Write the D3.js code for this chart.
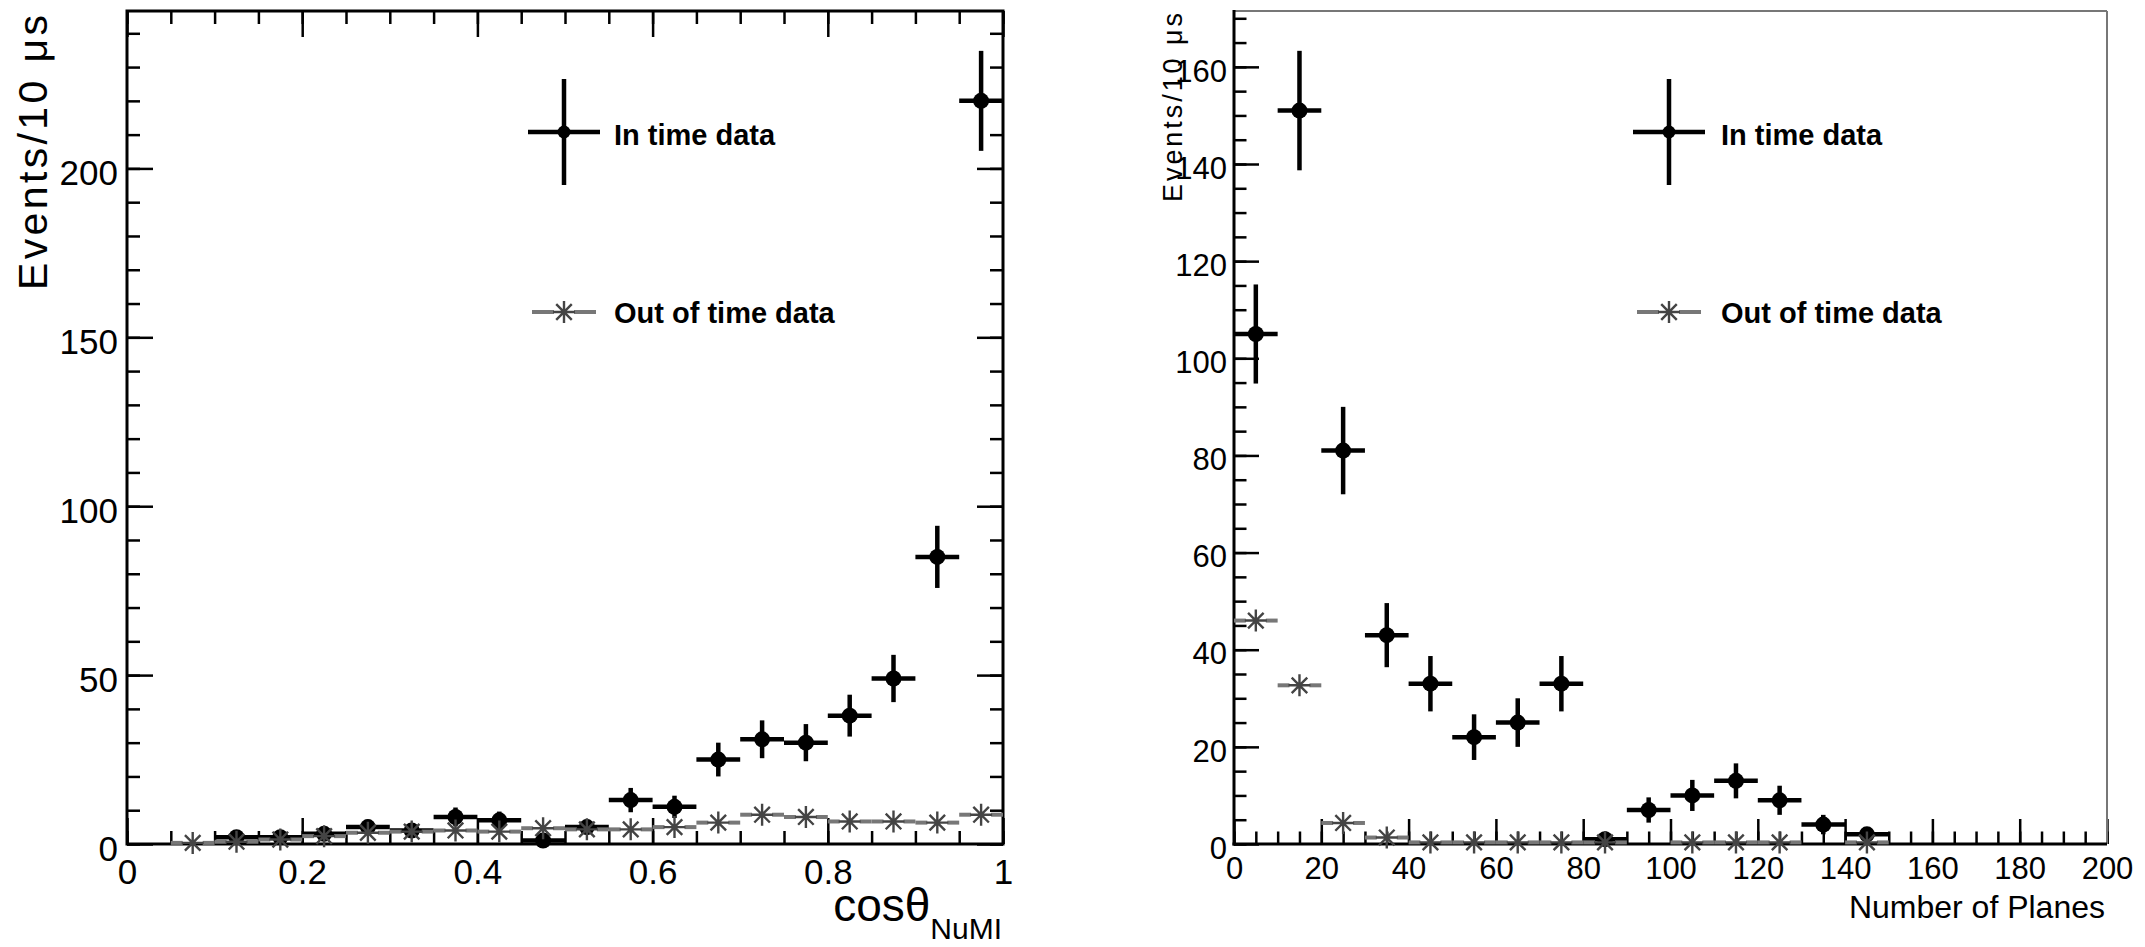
<!DOCTYPE html>
<html><head><meta charset="utf-8">
<script src="https://cdn.jsdelivr.net/npm/d3@7"></script>
<style>
body{margin:0;background:#fff}
svg{display:block}
text{font-family:"Liberation Sans",Arial,Helvetica,sans-serif;fill:#000}
</style>
</head><body>
<svg id="c" width="2145" height="947"></svg>
<script>
// ---------------- DATA ----------------
// Left panel: cos(theta_NuMI), bins of width 0.05
const leftBinCenters = [0.025,0.075,0.125,0.175,0.225,0.275,0.325,0.375,0.425,0.475,
                        0.525,0.575,0.625,0.675,0.725,0.775,0.825,0.875,0.925,0.975];
const leftInTime     = [null,null,2,2,3,5,4,8,7,1,5,13,11,25,31,30,38,49,85,220];
const leftInTimeErr  = [null,null,1.4,1.4,1.7,2.2,2.0,2.8,2.6,1.0,2.2,3.6,3.3,5.0,5.6,5.5,6.2,7.0,9.2,14.8];
const leftOutTime    = [null,0.33,0.67,1.33,2.33,3.33,3.67,4.0,3.67,4.67,4.33,4.33,5.0,6.33,8.67,8.0,6.67,6.67,6.33,8.67];
const leftXTicks     = [0,0.2,0.4,0.6,0.8,1];
const leftXLabels    = ["0","0.2","0.4","0.6","0.8","1"];
const leftYTicks     = [0,50,100,150,200];
const leftYLabels    = ["0","50","100","150","200"];

// Right panel: Number of planes, bins of width 10
const rightBinCenters = [5,15,25,35,45,55,65,75,85,95,105,115,125,135,145,155,165,175,185,195];
const rightInTime     = [105,151,81,43,33,22,25,33,1,7,10,13,9,4,2,null,null,null,null,null];
const rightInTimeErr  = [10.2,12.3,9.0,6.6,5.7,4.7,5.0,5.7,1.0,2.6,3.2,3.6,3.0,2.0,1.4,null,null,null,null,null];
const rightOutTime    = [46,32.67,4.33,1.33,0.33,0.33,0.33,0.33,0.33,null,0.33,0.33,0.33,null,0.33,null,null,null,null,null];
const rightXTicks     = [0,20,40,60,80,100,120,140,160,180,200];
const rightXLabels    = ["0","20","40","60","80","100","120","140","160","180","200"];
const rightYTicks     = [0,20,40,60,80,100,120,140,160];
const rightYLabels    = ["0","20","40","60","80","100","120","140","160"];

const legendLabels = ["In time data","Out of time data"];

// ---------------- DRAWING ----------------
const svg = d3.select("#c");
const GRAY_BAR = "#777777", GRAY_STAR = "#444444";

function starPath(r){
  const k = r*0.7071;
  return `M${-r},0H${r}M0,${-r}V${r}M${-k},${-k}L${k},${k}M${-k},${k}L${k},${-k}`;
}

function styleAxis(a, tickW){
  a.attr("font-size", null).attr("font-family", null);
  a.select(".domain").remove();
  a.selectAll(".tick line").attr("stroke","#000").attr("stroke-width",tickW);
}

function panel(cfg){
  const x = d3.scaleLinear().domain(cfg.xDomain).range(cfg.xRange);
  const y = d3.scaleLinear().domain(cfg.yDomain).range(cfg.yRange);
  const g = svg.append("g");
  const [xl, xr] = cfg.xRange, [yb, yt] = cfg.yRange;

  const xMinor = d3.range(cfg.xDomain[0], cfg.xDomain[1] + 1e-9, cfg.xMinorStep).map(v => +v.toFixed(6));
  const yMinor = d3.range(cfg.yDomain[0], cfg.yDomain[1], cfg.yMinorStep).map(v => +v.toFixed(6));

  styleAxis(g.append("g").attr("transform",`translate(0,${yb})`)
    .call(d3.axisBottom(x).tickValues(xMinor).tickSize(-cfg.minorLen).tickSizeOuter(0).tickFormat("")), cfg.tickW);
  const bx = g.append("g").attr("transform",`translate(0,${yb})`)
    .call(d3.axisBottom(x).tickValues(cfg.xTicks).tickSize(-cfg.majorLen).tickSizeOuter(0)
      .tickFormat((d,i)=>cfg.xLabels[i]));
  styleAxis(bx, cfg.tickW);
  bx.selectAll("text").attr("y", cfg.xLabelBase).attr("dy",0)
    .attr("font-size", cfg.labelSize).attr("text-anchor","middle");

  styleAxis(g.append("g").attr("transform",`translate(${xl},0)`)
    .call(d3.axisLeft(y).tickValues(yMinor).tickSize(-cfg.minorLen).tickSizeOuter(0).tickFormat("")), cfg.tickW);
  const ly = g.append("g").attr("transform",`translate(${xl},0)`)
    .call(d3.axisLeft(y).tickValues(cfg.yTicks).tickSize(-cfg.majorLen).tickSizeOuter(0)
      .tickFormat((d,i)=>cfg.yLabels[i]));
  styleAxis(ly, cfg.tickW);
  ly.selectAll("text").attr("x", -cfg.yLabelGap).attr("dy", cfg.yLabelDy)
    .attr("font-size", cfg.labelSize).attr("text-anchor","end");

  if (cfg.mirror){
    styleAxis(g.append("g").attr("transform",`translate(0,${yt})`)
      .call(d3.axisTop(x).tickValues(xMinor).tickSize(-cfg.minorLen).tickSizeOuter(0).tickFormat("")), cfg.tickW);
    styleAxis(g.append("g").attr("transform",`translate(0,${yt})`)
      .call(d3.axisTop(x).tickValues(cfg.xTicks).tickSize(-cfg.majorLen).tickSizeOuter(0).tickFormat("")), cfg.tickW);
    styleAxis(g.append("g").attr("transform",`translate(${xr},0)`)
      .call(d3.axisRight(y).tickValues(yMinor).tickSize(-cfg.minorLen).tickSizeOuter(0).tickFormat("")), cfg.tickW);
    styleAxis(g.append("g").attr("transform",`translate(${xr},0)`)
      .call(d3.axisRight(y).tickValues(cfg.yTicks).tickSize(-cfg.majorLen).tickSizeOuter(0).tickFormat("")), cfg.tickW);
  }

  if (cfg.mirror){
    g.append("rect").attr("x",xl).attr("y",yt).attr("width",xr-xl).attr("height",yb-yt)
      .attr("fill","none").attr("stroke","#000").attr("stroke-width",3);
  } else {
    g.append("line").attr("x1",xl).attr("x2",xr).attr("y1",yt).attr("y2",yt).attr("stroke","#777").attr("stroke-width",2);
    g.append("line").attr("x1",xr).attr("x2",xr).attr("y1",yt).attr("y2",yb).attr("stroke","#777").attr("stroke-width",2);
    g.append("line").attr("x1",xl).attr("x2",xl).attr("y1",yt-1).attr("y2",yb+1.5).attr("stroke","#000").attr("stroke-width",3);
    g.append("line").attr("x1",xl-1.5).attr("x2",xr).attr("y1",yb).attr("y2",yb).attr("stroke","#000").attr("stroke-width",3);
  }

  const hw = cfg.binW/2;
  const inPts = cfg.centers.map((c,i)=>({c, v:cfg.inTime[i], e:cfg.inErr[i]})).filter(d=>d.v!=null);
  const gi = g.append("g");
  gi.selectAll("line.h").data(inPts).join("line")
    .attr("x1",d=>x(d.c-hw)).attr("x2",d=>x(d.c+hw)).attr("y1",d=>y(d.v)).attr("y2",d=>y(d.v))
    .attr("stroke","#000").attr("stroke-width",4.5);
  gi.selectAll("line.v").data(inPts).join("line")
    .attr("x1",d=>x(d.c)).attr("x2",d=>x(d.c)).attr("y1",d=>y(Math.max(0,d.v-d.e))).attr("y2",d=>y(d.v+d.e))
    .attr("stroke","#000").attr("stroke-width",4.5);
  gi.selectAll("circle").data(inPts).join("circle")
    .attr("cx",d=>x(d.c)).attr("cy",d=>y(d.v)).attr("r",8).attr("fill","#000");

  const outPts = cfg.centers.map((c,i)=>({c, v:cfg.outTime[i]})).filter(d=>d.v!=null);
  const go = g.append("g");
  const gap = 10;
  go.selectAll("line.l").data(outPts).join("line")
    .attr("x1",d=>x(d.c-hw)).attr("x2",d=>x(d.c)-gap).attr("y1",d=>y(d.v)).attr("y2",d=>y(d.v))
    .attr("stroke",GRAY_BAR).attr("stroke-width",4);
  go.selectAll("line.r").data(outPts).join("line")
    .attr("x1",d=>x(d.c)+gap).attr("x2",d=>x(d.c+hw)).attr("y1",d=>y(d.v)).attr("y2",d=>y(d.v))
    .attr("stroke",GRAY_BAR).attr("stroke-width",4);
  go.selectAll("path").data(outPts).join("path")
    .attr("transform",d=>`translate(${x(d.c)},${y(d.v)})`).attr("d",starPath(11))
    .attr("stroke",GRAY_STAR).attr("stroke-width",2.4).attr("fill","none");

  const L = cfg.legend;
  const lg = g.append("g");
  lg.append("line").attr("x1",L.x-36).attr("x2",L.x+36).attr("y1",L.y1).attr("y2",L.y1).attr("stroke","#000").attr("stroke-width",4.5);
  lg.append("line").attr("x1",L.x).attr("x2",L.x).attr("y1",L.y1-53).attr("y2",L.y1+53).attr("stroke","#000").attr("stroke-width",4.5);
  lg.append("circle").attr("cx",L.x).attr("cy",L.y1).attr("r",6.5).attr("fill","#000");
  lg.append("line").attr("x1",L.x-32).attr("x2",L.x-gap).attr("y1",L.y2).attr("y2",L.y2).attr("stroke",GRAY_BAR).attr("stroke-width",4);
  lg.append("line").attr("x1",L.x+gap).attr("x2",L.x+32).attr("y1",L.y2).attr("y2",L.y2).attr("stroke",GRAY_BAR).attr("stroke-width",4);
  lg.append("path").attr("transform",`translate(${L.x},${L.y2})`).attr("d",starPath(11))
    .attr("stroke",GRAY_STAR).attr("stroke-width",2.4).attr("fill","none");
  lg.append("text").attr("x",L.tx).attr("y",L.y1+13).attr("font-size",29).attr("font-weight","bold").text(legendLabels[0]);
  lg.append("text").attr("x",L.tx).attr("y",L.y2+11).attr("font-size",29).attr("font-weight","bold").text(legendLabels[1]);

  return g;
}

// Left panel
const gL = panel({
  xDomain:[0,1], xRange:[127,1003], yDomain:[0,246.6], yRange:[844,11],
  xMinorStep:0.05, yMinorStep:10, xTicks:leftXTicks, xLabels:leftXLabels, yTicks:leftYTicks, yLabels:leftYLabels,
  majorLen:26, minorLen:13, tickW:2.5, labelSize:35, xLabelBase:40, yLabelGap:9, yLabelDy:"0.46em",
  mirror:true, centers:leftBinCenters, binW:0.05, inTime:leftInTime, inErr:leftInTimeErr, outTime:leftOutTime,
  legend:{x:564, y1:132, y2:312, tx:614}
});
gL.append("text").attr("transform","translate(47,15) rotate(-90)").attr("text-anchor","end")
  .attr("font-size",41).attr("textLength",275).attr("lengthAdjust","spacing").text("Events/10 μs");
const xt = gL.append("text").attr("x",1002).attr("y",921).attr("text-anchor","end").attr("font-size",46);
xt.append("tspan").text("cosθ");
xt.append("tspan").attr("font-size",30).attr("dy",18).text("NuMI");

// Right panel
const gR = panel({
  xDomain:[0,200], xRange:[1234,2107], yDomain:[0,171.5], yRange:[844,11],
  xMinorStep:5, yMinorStep:5, xTicks:rightXTicks, xLabels:rightXLabels, yTicks:rightYTicks, yLabels:rightYLabels,
  majorLen:25, minorLen:12.5, tickW:2.5, labelSize:31, xLabelBase:35, yLabelGap:7, yLabelDy:"0.46em",
  mirror:false, centers:rightBinCenters, binW:10, inTime:rightInTime, inErr:rightInTimeErr, outTime:rightOutTime,
  legend:{x:1669, y1:132, y2:312, tx:1721}
});
gR.append("text").attr("transform","translate(1182,13) rotate(-90)").attr("text-anchor","end")
  .attr("font-size",27).attr("textLength",189).attr("lengthAdjust","spacing").text("Events/10 μs");
gR.append("text").attr("x",2105).attr("y",918).attr("text-anchor","end").attr("font-size",32).text("Number of Planes");
</script>
</body></html>
